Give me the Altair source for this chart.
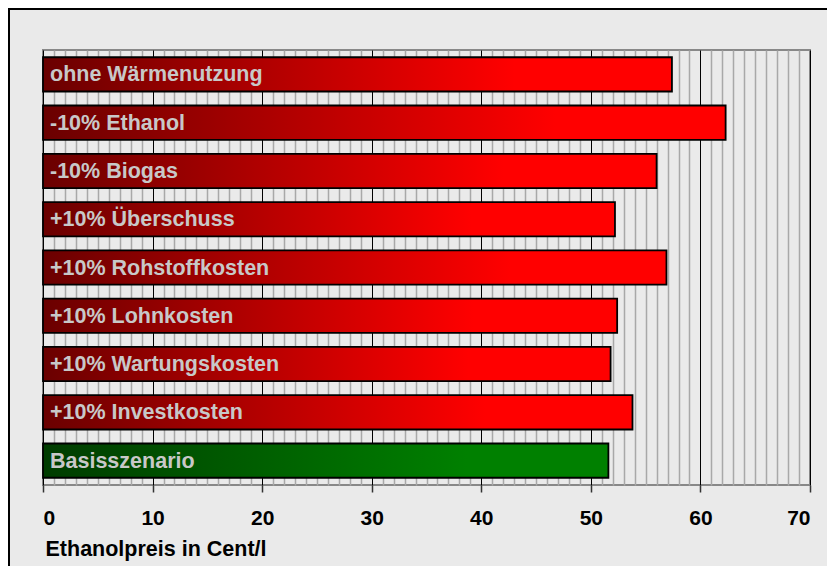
import altair as alt
import pandas as pd

categories = [
    "ohne Wärmenutzung",
    "-10% Ethanol",
    "-10% Biogas",
    "+10% Überschuss",
    "+10% Rohstoffkosten",
    "+10% Lohnkosten",
    "+10% Wartungskosten",
    "+10% Investkosten",
    "Basisszenario",
]
prices = [57.4, 62.3, 56.0, 52.2, 56.9, 52.4, 51.8, 53.8, 51.6]
groups = ["Variante"] * 8 + ["Basis"]

df = pd.DataFrame({"Szenario": categories, "Preis": prices, "Gruppe": groups})

FONT = "Liberation Sans"

red_grad = alt.LinearGradient(
    gradient="linear", x1=0, x2=1, y1=0, y2=0,
    stops=[alt.GradientStop(color="#6a0000", offset=0),
           alt.GradientStop(color="#ff0000", offset=0.75),
           alt.GradientStop(color="#ff0000", offset=1)],
)
green_grad = alt.LinearGradient(
    gradient="linear", x1=0, x2=1, y1=0, y2=0,
    stops=[alt.GradientStop(color="#003c00", offset=0),
           alt.GradientStop(color="#008000", offset=0.75),
           alt.GradientStop(color="#008000", offset=1)],
)

x_axis = alt.Axis(
    values=list(range(0, 71)),
    labelExpr="datum.value % 10 === 0 ? datum.label : ''",
    labelOverlap=False,
    labelFont=FONT, labelFontSize=21, labelFontWeight="bold", labelColor="black",
    labelPadding=15,
    grid=True,
    gridColor=alt.condition("datum.value % 10 === 0", alt.value("black"), alt.value("#a8a8a8")),
    gridWidth=alt.condition("datum.value % 10 === 0", alt.value(1), alt.value(1.5)),
    ticks=True, tickSize=7, tickWidth=1.5,
    tickColor=alt.condition("datum.value % 10 === 0", alt.value("#333333"), alt.value("transparent")),
    domain=False,
    title="Ethanolpreis in Cent/l",
    titleFont=FONT, titleFontSize=21.5, titleFontWeight="bold", titleColor="black",
    titleAlign="left", titleAnchor="start", titleBaseline="alphabetic",
    titleX=2, titleY=70,
)

x = alt.X("Preis:Q", scale=alt.Scale(domain=[0, 70], nice=False, zero=True), axis=x_axis)
y = alt.Y("Szenario:N", sort=categories,
          scale=alt.Scale(paddingInner=0.29, paddingOuter=0.15), axis=None)

base = alt.Chart(df)

bars_red = base.transform_filter("datum.Gruppe === 'Variante'").mark_bar(
    color=red_grad, stroke="black", strokeWidth=1.8
).encode(x=x, y=y)

bars_green = base.transform_filter("datum.Gruppe === 'Basis'").mark_bar(
    color=green_grad, stroke="black", strokeWidth=1.8
).encode(x=x, y=y)

labels = base.mark_text(
    align="left", baseline="middle", font=FONT, fontSize=21.5, fontWeight="bold",
    color="#c8c8c8", dy=1
).encode(x=alt.value(7), y=y, text="Szenario:N")

frame_left = base.mark_rule(color="black", strokeWidth=2).encode(
    x=alt.value(-34), y=alt.value(-42), y2=alt.value(520)
)
frame_top = base.mark_rule(color="black", strokeWidth=2).encode(
    x=alt.value(-35), x2=alt.value(790), y=alt.value(-41)
)

chart = alt.layer(bars_red, bars_green, labels, frame_left, frame_top).properties(
    width=767, height=435,
    autosize=alt.AutoSizeParams(type="none"),
    padding={"left": 35, "top": 42, "right": 17, "bottom": 81},
    background="#eaeaea",
).configure_view(
    fill="#eaeaea", stroke="#888888", strokeWidth=2
)

chart.save("out.html", embed_options={"renderer": "svg", "actions": False})
